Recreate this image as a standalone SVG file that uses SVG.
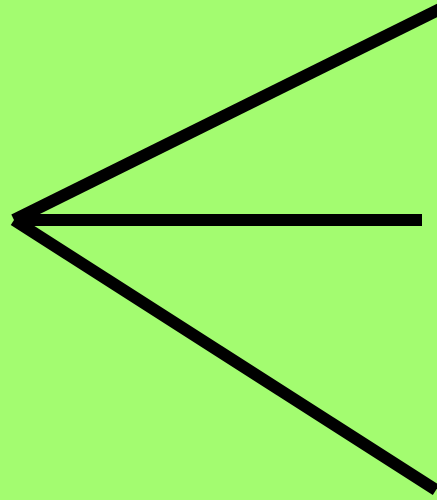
<svg xmlns="http://www.w3.org/2000/svg" width="437" height="500" viewBox="0 0 437 500">
<style>.ln{stroke:#000;stroke-width:12;fill:none;stroke-linecap:butt;stroke-linejoin:miter}</style>
<rect id="bg" x="0" y="0" width="437" height="500" fill="#a3fc70"/>
<g id="connectors">
<line class="ln" x1="14" y1="220" x2="442" y2="8"/>
<line class="ln" x1="14" y1="220" x2="422" y2="220"/>
<line class="ln" x1="14" y1="220" x2="436" y2="490"/>
</g>
</svg>
